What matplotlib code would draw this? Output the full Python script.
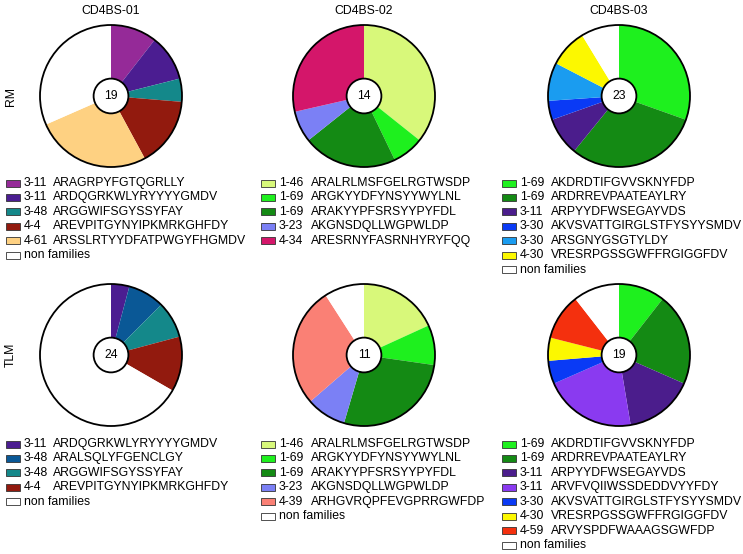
import matplotlib

matplotlib.use("Agg")
import matplotlib.pyplot as plt
from matplotlib.patches import Circle, Rectangle

W, H = 743, 554

DONORS = ["CD4BS-01", "CD4BS-02", "CD4BS-03"]
GROUPS = ["RM", "TLM"]

# --- RM row ---
RM1_GENES = ["3-11", "3-11", "3-48", "4-4", "4-61", ""]
RM1_SEQS = ["ARAGRPYFGTQGRLLY", "ARDQGRKWLYRYYYYGMDV", "ARGGWIFSGYSSYFAY",
            "AREVPITGYNYIPKMRKGHFDY", "ARSSLRTYYDFATPWGYFHGMDV", "non families"]
RM1_COUNTS = [2, 2, 1, 3, 5, 6]

RM2_GENES = ["1-46", "1-69", "1-69", "3-23", "4-34"]
RM2_SEQS = ["ARALRLMSFGELRGTWSDP", "ARGKYYDFYNSYYWYLNL", "ARAKYYPFSRSYYPYFDL",
            "AKGNSDQLLWGPWLDP", "ARESRNYFASRNHYRYFQQ"]
RM2_COUNTS = [5, 1, 3, 1, 4]

RM3_GENES = ["1-69", "1-69", "3-11", "3-30", "3-30", "4-30", ""]
RM3_SEQS = ["AKDRDTIFGVVSKNYFDP", "ARDRREVPAATEAYLRY", "ARPYYDFWSEGAYVDS",
            "AKVSVATTGIRGLSTFYSYYSMDV", "ARSGNYGSGTYLDY", "VRESRPGSSGWFFRGIGGFDV",
            "non families"]
RM3_COUNTS = [7, 7, 2, 1, 2, 2, 2]

# --- TLM row ---
TLM1_GENES = ["3-11", "3-48", "3-48", "4-4", ""]
TLM1_SEQS = ["ARDQGRKWLYRYYYYGMDV", "ARALSQLYFGENCLGY", "ARGGWIFSGYSSYFAY",
             "AREVPITGYNYIPKMRKGHFDY", "non families"]
TLM1_COUNTS = [1, 2, 2, 3, 16]

TLM2_GENES = ["1-46", "1-69", "1-69", "3-23", "4-39", ""]
TLM2_SEQS = ["ARALRLMSFGELRGTWSDP", "ARGKYYDFYNSYYWYLNL", "ARAKYYPFSRSYYPYFDL",
             "AKGNSDQLLWGPWLDP", "ARHGVRQPFEVGPRRGWFDP", "non families"]
TLM2_COUNTS = [2, 1, 3, 1, 3, 1]

TLM3_GENES = ["1-69", "1-69", "3-11", "3-11", "3-30", "4-30", "4-59", ""]
TLM3_SEQS = ["AKDRDTIFGVVSKNYFDP", "ARDRREVPAATEAYLRY", "ARPYYDFWSEGAYVDS",
             "ARVFVQIIWSSDEDDVYYFDY", "AKVSVATTGIRGLSTFYSYYSMDV",
             "VRESRPGSSGWFFRGIGGFDV", "ARVYSPDFWAAAGSGWFDP", "non families"]
TLM3_COUNTS = [2, 4, 3, 4, 1, 1, 2, 2]

# --- colors ---
RM1_COLORS = ["#952a98", "#4b1d91", "#14888a", "#921a0e", "#fed182", "white"]
RM2_COLORS = ["#d8f87a", "#1ef01e", "#148a14", "#7b80f5", "#d4166a"]
RM3_COLORS = ["#1ef01e", "#148a14", "#4b1d8c", "#0a3af5", "#1a9cf0", "#fcf800", "white"]
TLM1_COLORS = ["#4b1d91", "#0a5896", "#14888a", "#921a0e", "white"]
TLM2_COLORS = ["#d8f87a", "#1ef01e", "#148a14", "#7b80f5", "#fa8075", "white"]
TLM3_COLORS = ["#1ef01e", "#148a14", "#4b1d8c", "#8a3af0", "#0a3af5", "#fcf800",
               "#f4300e", "white"]

PANELS = [
    [(RM1_GENES, RM1_SEQS, RM1_COUNTS, RM1_COLORS),
     (RM2_GENES, RM2_SEQS, RM2_COUNTS, RM2_COLORS),
     (RM3_GENES, RM3_SEQS, RM3_COUNTS, RM3_COLORS)],
    [(TLM1_GENES, TLM1_SEQS, TLM1_COUNTS, TLM1_COLORS),
     (TLM2_GENES, TLM2_SEQS, TLM2_COUNTS, TLM2_COLORS),
     (TLM3_GENES, TLM3_SEQS, TLM3_COUNTS, TLM3_COLORS)],
]

# layout in pixels
COL_X = [111, 364, 619]
ROW_Y = [96, 355]
R_PX = 71
LEG_Y0 = [183, 444]
LEG_DY = 14.45
LEG_BOX_X = [6, 261, 502]
LEG_SEQ_X = [53, 311, 551]
FS = 8.8


def fx(x):
    return x / W


def fy(y):
    return 1 - y / H


def main():
    plt.rcParams.update({"font.family": ["Liberation Sans", "DejaVu Sans"]})
    fig = plt.figure(figsize=(W / 100, H / 100), dpi=100)

    for r, row in enumerate(PANELS):
        for c, (genes, seqs, counts, colors) in enumerate(row):
            cx, cy = COL_X[c], ROW_Y[r]
            half = R_PX * 1.03
            ax = fig.add_axes([fx(cx - half), fy(cy + half), 2 * half / W, 2 * half / H])
            ax.pie(counts, colors=colors, startangle=90, counterclock=False,
                   radius=1, wedgeprops=dict(linewidth=0))
            ax.add_patch(Circle((0, 0), 1, fill=False, ec="black", lw=1.3, zorder=5))
            ax.add_patch(Circle((0, 0), 0.245, fc="white", ec="black", lw=1.3, zorder=6))
            ax.text(0, 0, str(sum(counts)), ha="center", va="center",
                    fontsize=FS, zorder=7)
            ax.set_xlim(-1.03, 1.03)
            ax.set_ylim(-1.03, 1.03)
            ax.set_aspect("equal")
            ax.axis("off")

            # legend: box | gene | CDR3 sequence
            for i, (g, s, col) in enumerate(zip(genes, seqs, colors)):
                y = LEG_Y0[r] + i * LEG_DY
                fig.patches.append(Rectangle(
                    (fx(LEG_BOX_X[c]), fy(y + 3.5)), 14 / W, 7 / H,
                    transform=fig.transFigure, fc=col, ec="#333333", lw=0.6))
                gx = LEG_BOX_X[c] + 18
                if g:
                    fig.text(fx(gx), fy(y), g, ha="left", va="center", fontsize=FS)
                    fig.text(fx(LEG_SEQ_X[c]), fy(y), s, ha="left", va="center", fontsize=FS)
                else:
                    fig.text(fx(gx), fy(y), s, ha="left", va="center", fontsize=FS)

    for c, name in enumerate(DONORS):
        fig.text(fx(COL_X[c]), fy(11), name, ha="center", va="center", fontsize=FS)
    for r, name in enumerate(GROUPS):
        fig.text(fx(11), fy(ROW_Y[r]), name, ha="center", va="center",
                 rotation=90, fontsize=FS)

    fig.savefig("out.png", dpi=100)


if __name__ == "__main__":
    main()
